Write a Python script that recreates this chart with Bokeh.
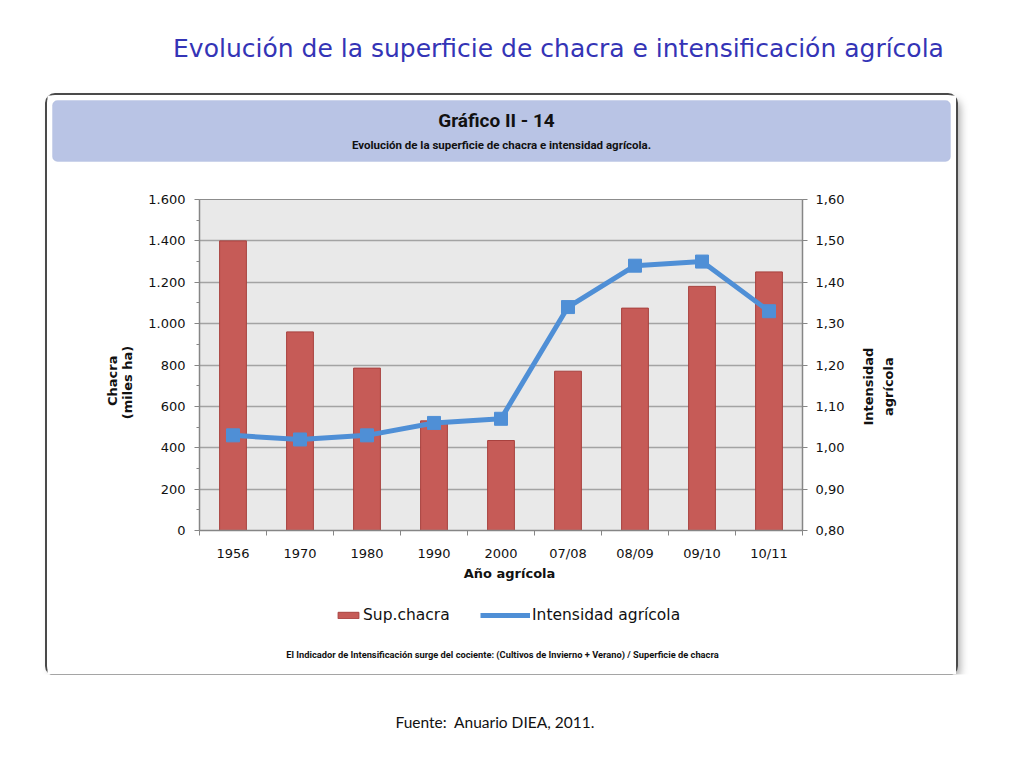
import math
from bokeh.plotting import figure
from bokeh.layouts import column, row
from bokeh.models import (Range1d, LinearAxis, FixedTicker, Label, BoxAnnotation,
                          Legend, LegendItem, ColumnDataSource, Spacer)
from bokeh.embed import file_html
from bokeh.resources import INLINE

# ---------------- data ----------------
categories = ["1956", "1970", "1980", "1990", "2000", "07/08", "08/09", "09/10", "10/11"]
sup_chacra = [1400, 960, 785, 530, 435, 770, 1075, 1180, 1250]          # miles ha
intensidad = [1.03, 1.02, 1.03, 1.06, 1.07, 1.34, 1.44, 1.45, 1.33]      # índice

left_ticks = [0, 200, 400, 600, 800, 1000, 1200, 1400, 1600]
left_tick_labels = ["0", "200", "400", "600", "800", "1.000", "1.200", "1.400", "1.600"]
right_ticks = [0.8, 0.9, 1.0, 1.1, 1.2, 1.3, 1.4, 1.5, 1.6]
right_tick_labels = ["0,80", "0,90", "1,00", "1,10", "1,20", "1,30", "1,40", "1,50", "1,60"]

page_title = "Evolución de la superficie de chacra e intensificación agrícola"
chart_title = "Gráfico II - 14"
chart_subtitle = "Evolución de la superficie de chacra e intensidad agrícola."
footnote = "El Indicador de Intensificación surge del cociente: (Cultivos de Invierno + Verano) / Superficie de chacra"
source_note = "Fuente:\u00a0\u00a0Anuario DIEA, 2011."
legend_labels = ["Sup.chacra", "Intensidad agrícola"]

BAR = "#c65b57"
BARLINE = "#a8413e"
LINE = "#4f8fd6"
AX = "#868686"
TICKFONT = "DejaVu Sans"
NARROW = "Roboto"


def canvas_fig(w, h):
    """A figure whose frame covers the whole canvas; y grows downward (pixel-like)."""
    f = figure(width=w, height=h, x_range=Range1d(0, w), y_range=Range1d(h, 0),
               output_backend="svg", toolbar_location=None,
               x_axis_location=None, y_axis_location=None, min_border=0,
               outline_line_color=None, background_fill_color="white", border_fill_color="white")
    f.xgrid.visible = False
    f.ygrid.visible = False
    return f


def lbl(x, y, text, font, size, style="normal", color="#111111", align="center", angle=0.0):
    return Label(x=x, y=y, text=text, text_font=font, text_font_size=size, text_font_style=style,
                 text_color=color, text_align=align, text_baseline="middle", angle=angle)


# ---------------- top title ----------------
top = canvas_fig(1008, 95)
top.add_layout(lbl(558, 48, page_title, "DejaVu Sans", "25px", color="#3434b6"))

# ---------------- header band inside the box ----------------
BOXW = 909
hdr = canvas_fig(BOXW, 70)
hdr.add_layout(BoxAnnotation(left=5, right=903, top=5, bottom=66, fill_color="#b9c4e5", fill_alpha=1,
                             line_color="#aab6da", line_width=1, border_radius=5, level="underlay"))
hdr.add_layout(lbl(449, 25, chart_title, NARROW, "19px", "bold"))
hdr.add_layout(lbl(454, 49, chart_subtitle, NARROW, "11.5px", "bold"))

# ---------------- main chart ----------------
n = len(categories)
centers = [i + 0.5 for i in range(n)]
bounds = [float(i) for i in range(n + 1)]
src = ColumnDataSource(dict(x=centers, cat=categories, sup=sup_chacra, inten=intensidad))

p = figure(width=715, height=398, x_range=Range1d(0, n), y_range=Range1d(left_ticks[0], left_ticks[-1]),
           output_backend="svg", toolbar_location=None,
           min_border_left=59, min_border_right=53, min_border_top=34, min_border_bottom=30,
           background_fill_color="#e9e9e9", border_fill_color="white",
           outline_line_color="#8c8c8c", outline_line_width=1)
p.extra_y_ranges = {"int": Range1d(right_ticks[0], right_ticks[-1])}

p.xgrid.visible = False
p.ygrid.ticker = FixedTicker(ticks=left_ticks)
p.ygrid.grid_line_color = "#a3a3a3"
p.ygrid.grid_line_width = 1.5

ya = p.yaxis[0]
ya.ticker = FixedTicker(ticks=left_ticks, minor_ticks=[t + 100 for t in left_ticks[:-1]])
ya.major_label_overrides = {t: l for t, l in zip(left_ticks, left_tick_labels)}

ra = LinearAxis(y_range_name="int", ticker=FixedTicker(ticks=right_ticks))
ra.major_label_overrides = {t: l for t, l in zip(right_ticks, right_tick_labels)}
p.add_layout(ra, "right")

xa = p.xaxis[0]
xa.ticker = FixedTicker(ticks=centers, minor_ticks=bounds)
xa.major_label_overrides = {c: l for c, l in zip(centers, categories)}

for ax in (ya, ra, xa):
    ax.axis_line_color = AX
    ax.axis_line_width = 1.5
    ax.major_tick_line_color = AX
    ax.minor_tick_line_color = AX
    ax.major_tick_in = 0
    ax.minor_tick_in = 0
    ax.major_label_text_font = TICKFONT
    ax.major_label_text_font_size = "13px"
    ax.major_label_text_color = "#111111"
ya.major_tick_out = 5
ya.minor_tick_out = 3
ya.major_label_standoff = 9
ra.major_tick_out = 5
ra.minor_tick_line_color = None
ra.major_label_standoff = 8
xa.major_tick_line_color = None
xa.major_tick_out = 0
xa.minor_tick_out = 5
xa.major_label_standoff = 10

p.vbar(x="x", top="sup", width=0.4, source=src, fill_color=BAR, line_color=BARLINE, line_width=1)
p.line(x="x", y="inten", source=src, y_range_name="int", line_color=LINE, line_width=5)
p.scatter(x="x", y="inten", source=src, y_range_name="int", marker="square", size=13,
          fill_color=LINE, line_color=LINE)

# ---------------- side axis titles ----------------
left = canvas_fig(93, 398)
left.add_layout(lbl(65, 218, "Chacra", "DejaVu Sans", "13px", "bold", angle=math.pi / 2))
left.add_layout(lbl(80, 220, "(miles ha)", "DejaVu Sans", "13px", "bold", angle=math.pi / 2))

right = canvas_fig(BOXW - 93 - 715, 398)
right.add_layout(lbl(13, 225, "Intensidad", "DejaVu Sans", "13px", "bold", angle=math.pi / 2))
right.add_layout(lbl(33, 225, "agrícola", "DejaVu Sans", "13px", "bold", angle=math.pi / 2))

# ---------------- bottom: x title, legend, footnote ----------------
bot = canvas_fig(BOXW, 111)
bot.add_layout(lbl(462, 10, "Año agrícola", "DejaVu Sans", "13px", "bold"))
nan = float("nan")
# legend keys only (no visible data in this strip)
key_bar = bot.vbar(x=[nan], top=[nan], width=0.4, fill_color=BAR, line_color=BARLINE, line_width=1)
key_line = bot.line(x=[nan, nan], y=[nan, nan], line_color=LINE, line_width=5)
key_pt = bot.scatter(x=[-500], y=[-500], marker="square", size=13, fill_color=LINE, line_color=LINE)

leg_style = dict(orientation="horizontal", glyph_height=8, label_standoff=2,
                 padding=0, margin=0, border_line_alpha=0, background_fill_alpha=0,
                 label_text_font=TICKFONT, label_text_font_size="15.5px", label_height=14,
                 label_text_color="#111111")
bot.add_layout(Legend(items=[LegendItem(label=legend_labels[0], renderers=[key_bar])],
                      location=(288, 50), glyph_width=26, **leg_style))
bot.add_layout(Legend(items=[LegendItem(label=legend_labels[1], renderers=[key_line, key_pt])],
                      location=(433, 50), glyph_width=50, **leg_style))
bot.add_layout(lbl(455, 91, footnote, NARROW, "9.3px", "bold"))

# ---------------- source note ----------------
srcf = canvas_fig(1008, 78)
srcf.add_layout(lbl(395, 47, source_note, "Lato", "15.5px", align="left"))

box = column(hdr, row(left, p, right), bot,
             styles={"outline": "2.5px solid #4a4a4a", "border-radius": "8px",
                     "box-shadow": "4px 5px 9px rgba(0,0,0,0.35)", "background-color": "white"})
page = column(top, row(Spacer(width=47, height=10), box), srcf)

open("out.html", "w").write(file_html(page, INLINE))
